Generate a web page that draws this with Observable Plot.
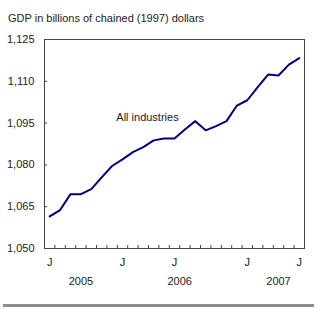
<!DOCTYPE html>
<html>
<head>
<meta charset="utf-8">
<script src="https://cdn.jsdelivr.net/npm/d3@7"></script>
<script src="https://cdn.jsdelivr.net/npm/@observablehq/plot@0.6"></script>
<style>
  html, body { margin: 0; padding: 0; background: #fff; }
  #wrap { position: relative; width: 320px; height: 310px; overflow: hidden; font-family: "Liberation Sans", Arial, sans-serif; }
  #title { position: absolute; left: 8px; top: 12px; font-size: 11px; color: #222; white-space: nowrap; }
  #rule { position: absolute; left: 3px; top: 304px; width: 311px; height: 3px; background: #8c8c8c; }
  #chart { position: absolute; left: 0; top: 0; }
</style>
</head>
<body>
<div id="wrap">
  <div id="chart"></div>
  <div id="title">GDP in billions of chained (1997) dollars</div>
  <div id="rule"></div>
</div>
<script>
// Months (Jan 2005 – Jan 2007)
const months = ["2005-01","2005-02","2005-03","2005-04","2005-05","2005-06","2005-07","2005-08","2005-09","2005-10","2005-11","2005-12",
                "2006-01","2006-02","2006-03","2006-04","2006-05","2006-06","2006-07","2006-08","2006-09","2006-10","2006-11","2006-12",
                "2007-01"];
// GDP, all industries (billions of chained 1997 dollars)
const gdp = [1061.5, 1063.8, 1069.5, 1069.5, 1071.3, 1075.5, 1079.6, 1082.0, 1084.6, 1086.4, 1088.8, 1089.5,
             1089.5, 1092.7, 1095.7, 1092.4, 1093.9, 1095.7, 1101.3, 1103.2, 1107.9, 1112.4, 1112.1, 1116.0,
             1118.3];
// Axis tick labels
const yTicks = [1050, 1065, 1080, 1095, 1110, 1125];
const monthLabelAt = ["2005-01", "2005-08", "2006-01", "2006-08", "2007-01"];
const monthLabels = ["J", "J", "J", "J", "J"];
const yearLabelAt = [3, 12.5, 22];
const yearLabels = ["2005", "2006", "2007"];
// Annotation
const seriesName = "All industries";
const seriesLabelAt = {x: 9.4, y: 1097};

const idx = m => months.indexOf(m);
const data = months.map((m, i) => ({i, v: gdp[i]}));
const bounds = d3.range(-0.5, months.length, 1);

const W = 320, H = 310, mt = 39, mb = 62, ml = 44, mr = 16, tick = 3;
const fw = W - ml - mr, fh = H - mt - mb;

const chart = Plot.plot({
  width: W,
  height: H,
  marginTop: mt,
  marginBottom: mb,
  marginLeft: ml,
  marginRight: mr,
  style: {fontFamily: "'Liberation Sans', Arial, sans-serif", fontSize: "11px", color: "#222", background: "transparent"},
  x: {domain: [-0.5, months.length - 0.5], axis: null},
  y: {domain: [1050, 1125], axis: null},
  marks: [
    Plot.axisY(yTicks, {tickSize: 0, tickPadding: 10, tickFormat: d3.format(","), fontSize: 11, fill: "#222"}),
    Plot.tickY(yTicks.slice(1, -1), {y: d => d, insetRight: fw - tick, stroke: "#444", strokeWidth: 1}),
    Plot.tickX(bounds.slice(1, -1), {x: d => d, insetTop: fh - tick, stroke: "#444", strokeWidth: 1}),
    Plot.frame({stroke: "#444"}),
    Plot.line(data, {x: "i", y: "v", stroke: "#000080", strokeWidth: 2, strokeLinejoin: "round"}),
    Plot.text(monthLabelAt, {x: d => idx(d), text: (d, i) => monthLabels[i], frameAnchor: "bottom", dy: 17, fontSize: 11, fill: "#222"}),
    Plot.text(yearLabelAt, {x: d => d, text: (d, i) => yearLabels[i], frameAnchor: "bottom", dy: 36, fontSize: 11, fill: "#222"}),
    Plot.text([seriesLabelAt], {x: "x", y: "y", text: () => seriesName, fontSize: 11, fill: "#222"})
  ]
});
document.getElementById("chart").appendChild(chart);
</script>
</body>
</html>
